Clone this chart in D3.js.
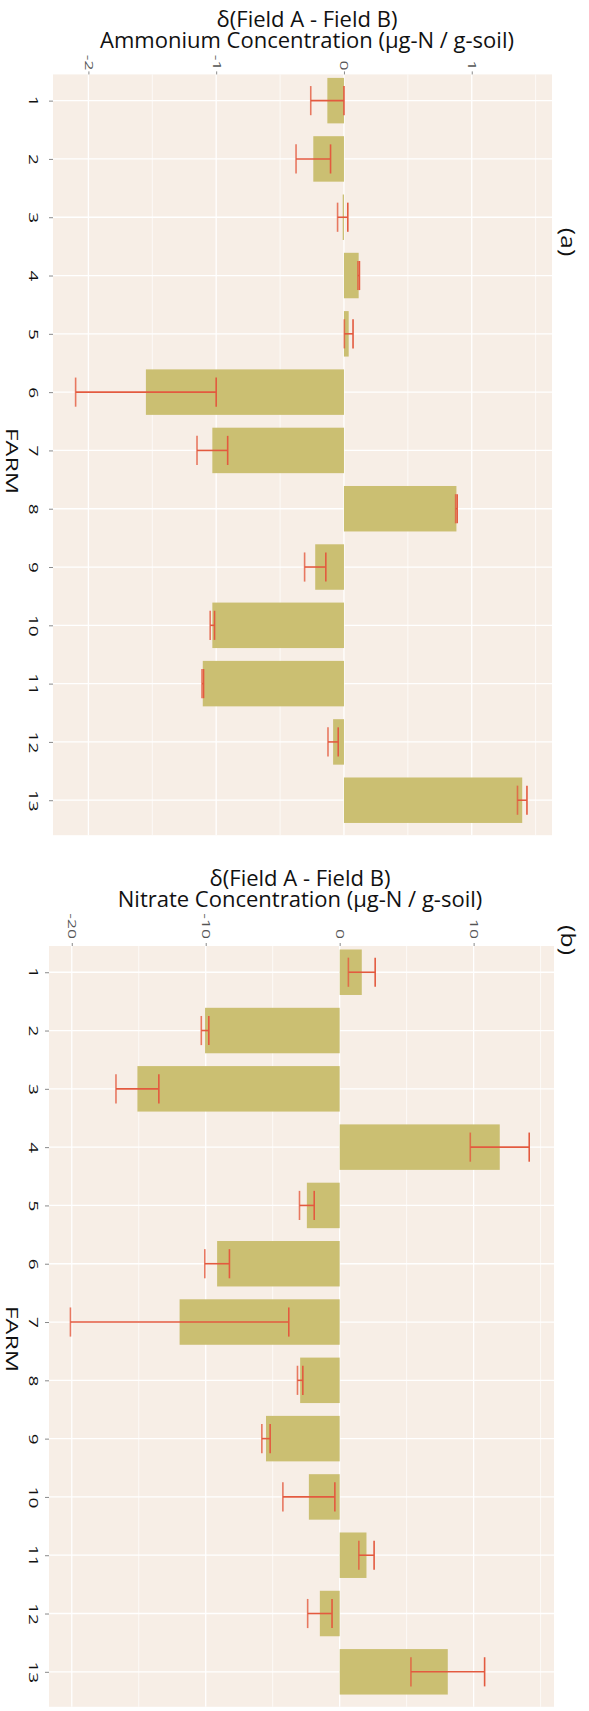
<!DOCTYPE html>
<html><head><meta charset="utf-8">
<script src="https://cdn.jsdelivr.net/npm/d3@7"></script>
<style>body{margin:0;background:#fff}svg{display:block}</style>
</head><body>
<svg id="chart" width="589" height="1711"></svg>
<script>
const farms = [1,2,3,4,5,6,7,8,9,10,11,12,13];
const ammoniumMean = [-0.13, -0.24, -0.01, 0.115, 0.037, -1.55, -1.03, 0.88, -0.225, -1.03, -1.105, -0.085, 1.395];
const ammoniumErr  = [0.13, 0.135, 0.04, 0.006, 0.034, 0.55, 0.12, 0.006, 0.083, 0.017, 0.006, 0.04, 0.037];
const nitrateMean = [1.65, -10.05, -15.1, 11.95, -2.45, -9.15, -11.95, -2.95, -5.5, -2.3, 2.0, -1.48, 8.07];
const nitrateErr  = [1.0, 0.28, 1.6, 2.2, 0.55, 0.92, 8.15, 0.2, 0.31, 1.94, 0.57, 0.91, 2.75];
const ammoniumTicks = [-2, -1, 0, 1];
const ammoniumMinor = [-1.5, -0.5, 0.5, 1.5];
const nitrateTicks = [-20, -10, 0, 10];
const nitrateMinor = [-15, -5, 5, 15];
const ammoniumTitle = ["δ(Field A - Field B)", "Ammonium Concentration (µg-N / g-soil)"];
const nitrateTitle = ["δ(Field A - Field B)", "Nitrate Concentration (µg-N / g-soil)"];
const farmAxisTitle = "FARM";
const panelTags = ["(a)", "(b)"];

const svg = d3.select("#chart");
const FONT = "'Open Sans', 'Noto Sans', sans-serif";
const BG = "#F7EEE6", BAR = "#CBBF72", ERR = "#E35A3F";

function drawPanel(cfg) {
  const g = svg.append("g");
  const x = d3.scaleLinear().domain(cfg.xDomain).range([cfg.left, cfg.right]);
  const y = d3.scaleLinear().domain([0.55, 13.6]).range([cfg.top, cfg.bottom]);
  const data = farms.map((f, i) => ({farm: f, mean: cfg.mean[i], err: cfg.err[i]}));

  g.append("rect").attr("x", cfg.left).attr("y", cfg.top)
    .attr("width", cfg.right - cfg.left).attr("height", cfg.bottom - cfg.top).attr("fill", BG);

  g.selectAll(".vminor").data(cfg.minor).join("line")
    .attr("x1", d => x(d)).attr("x2", d => x(d)).attr("y1", cfg.top).attr("y2", cfg.bottom)
    .attr("stroke", "#fff").attr("stroke-width", 0.7);
  g.selectAll(".vmajor").data(cfg.ticks).join("line")
    .attr("x1", d => x(d)).attr("x2", d => x(d)).attr("y1", cfg.top).attr("y2", cfg.bottom)
    .attr("stroke", "#fff").attr("stroke-width", 1.3);
  g.selectAll(".hmajor").data(farms).join("line")
    .attr("x1", cfg.left).attr("x2", cfg.right).attr("y1", d => y(d)).attr("y2", d => y(d))
    .attr("stroke", "#fff").attr("stroke-width", 1.3);

  g.selectAll(".bar").data(data).join("rect")
    .attr("x", d => Math.min(x(0), x(d.mean)))
    .attr("width", d => Math.abs(x(d.mean) - x(0)))
    .attr("y", d => y(d.farm - 0.39))
    .attr("height", d => y(d.farm + 0.39) - y(d.farm - 0.39))
    .attr("fill", BAR);

  const eb = g.selectAll(".eb").data(data).join("g")
    .attr("stroke", ERR).attr("stroke-width", 1.6).attr("fill", "none");
  eb.append("line").attr("x1", d => x(d.mean - d.err)).attr("x2", d => x(d.mean + d.err))
    .attr("y1", d => y(d.farm)).attr("y2", d => y(d.farm));
  eb.append("line").attr("x1", d => x(d.mean - d.err)).attr("x2", d => x(d.mean - d.err))
    .attr("y1", d => y(d.farm - 0.25)).attr("y2", d => y(d.farm + 0.25)).attr("stroke-opacity", 0.8);
  eb.append("line").attr("x1", d => x(d.mean + d.err)).attr("x2", d => x(d.mean + d.err))
    .attr("y1", d => y(d.farm - 0.25)).attr("y2", d => y(d.farm + 0.25));

  const gx = g.append("g").attr("transform", `translate(0,${cfg.top})`)
    .call(d3.axisTop(x).tickValues(cfg.ticks).tickFormat(d => String(d)).tickSize(3).tickPadding(0));
  gx.select(".domain").remove();
  gx.selectAll(".tick line").attr("stroke", "#8a8a8a");
  gx.selectAll(".tick text")
    .attr("y", 0).attr("dy", "0.35em").attr("text-anchor", "end")
    .attr("transform", `translate(0,${-cfg.labelGap}) rotate(90) scale(1,0.66)`)
    .attr("font-family", FONT).attr("font-size", 17.5).attr("fill", "#555");

  const gy = g.append("g").attr("transform", `translate(${cfg.left},0)`)
    .call(d3.axisLeft(y).tickValues(farms).tickFormat(d => String(d)).tickSize(4).tickPadding(0));
  gy.select(".domain").remove();
  gy.selectAll(".tick line").attr("stroke", "#8a8a8a");
  gy.selectAll(".tick text")
    .attr("x", 0).attr("dy", 0).attr("text-anchor", "middle")
    .attr("transform", `translate(${29 - cfg.left},0) rotate(90) scale(1,0.66)`)
    .attr("font-family", FONT).attr("font-size", 19).attr("fill", "#111");

  const t = g.append("text").attr("text-anchor", "middle")
    .attr("font-family", FONT).attr("font-size", 22).attr("fill", "#111");
  t.append("tspan").attr("x", cfg.titleX).attr("y", cfg.titleY[0]).text(cfg.title[0]);
  t.append("tspan").attr("x", cfg.titleX).attr("y", cfg.titleY[1]).text(cfg.title[1]);

  g.append("text").attr("text-anchor", "middle")
    .attr("transform", `translate(6,${cfg.farmLabelY}) rotate(90) scale(1,0.68)`)
    .attr("font-family", FONT).attr("font-size", 25).attr("fill", "#111").text(farmAxisTitle);

  g.append("text").attr("text-anchor", "middle")
    .attr("transform", `translate(561,${cfg.tagY}) rotate(90) scale(1,0.8)`)
    .attr("font-family", FONT).attr("font-size", 25).attr("fill", "#111").text(cfg.tag);
}

drawPanel({
  left: 53, right: 552, top: 74.4, bottom: 835.2,
  xDomain: [-2.277, 1.628], ticks: ammoniumTicks, minor: ammoniumMinor,
  mean: ammoniumMean, err: ammoniumErr, labelGap: 4,
  title: ammoniumTitle, titleX: 307, titleY: [27, 48],
  farmLabelY: 461, tag: panelTags[0], tagY: 242
});
drawPanel({
  left: 49, right: 554, top: 946, bottom: 1706.8,
  xDomain: [-21.7, 16.0], ticks: nitrateTicks, minor: nitrateMinor,
  mean: nitrateMean, err: nitrateErr, labelGap: 7,
  title: nitrateTitle, titleX: 300, titleY: [886, 907],
  farmLabelY: 1339, tag: panelTags[1], tagY: 940
});
</script>
</body></html>
